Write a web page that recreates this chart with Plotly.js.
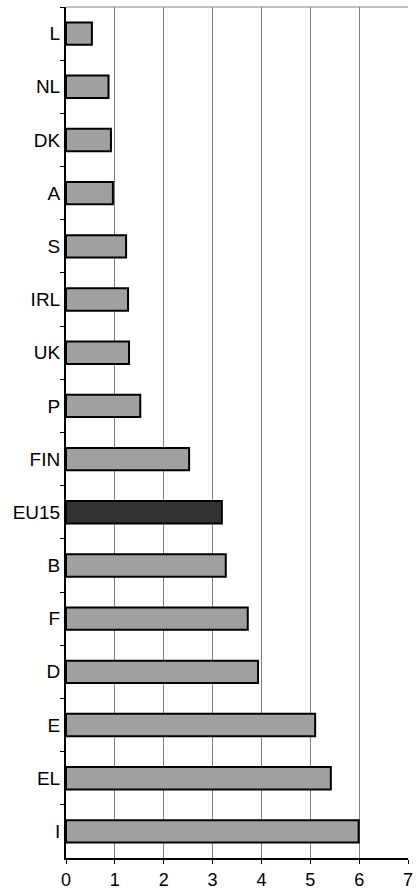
<!DOCTYPE html>
<html><head><meta charset="utf-8">
<script src="https://cdn.plot.ly/plotly-3.0.1.min.js"></script>
<style>html,body{margin:0;padding:0;background:#fff}#c{width:416px;height:889px}</style>
</head><body><div id="c"></div>
<script>
const countries = ["L","NL","DK","A","S","IRL","UK","P","FIN","EU15","B","F","D","E","EL","I"];
const values = [0.53,0.87,0.92,0.96,1.23,1.27,1.29,1.52,2.52,3.19,3.27,3.72,3.93,5.10,5.42,5.99];
const xTicks = [0,1,2,3,4,5,6,7];

const colors = countries.map(c => c === "EU15" ? "#333333" : "#a0a0a0");

const trace = {
  type: "bar", orientation: "h",
  y: countries, x: values,
  marker: {color: colors, line: {color: "#000", width: 2}},
  width: 0.42,
  hoverinfo: "none"
};

const layout = {
  width: 416, height: 889,
  margin: {l: 66, r: 8, t: 7, b: 31},
  paper_bgcolor: "#fff", plot_bgcolor: "#fff",
  font: {family: "Liberation Sans, Arial, sans-serif", size: 19, color: "#000"},
  showlegend: false,
  xaxis: {
    range: [0, 7], tickvals: xTicks, ticktext: xTicks.map(String),
    showgrid: true, gridcolor: "#808080", gridwidth: 1,
    zeroline: false, showline: true, linecolor: "#000", linewidth: 2,
    ticks: "outside", ticklen: 4, tickcolor: "#000", tickwidth: 1,
    tickfont: {size: 18}, fixedrange: true
  },
  yaxis: {
    type: "category", categoryorder: "array", categoryarray: countries,
    autorange: "reversed",
    tickson: "boundaries", ticks: "outside", ticklen: 4, tickcolor: "#000",
    showgrid: false, showline: true, linecolor: "#000", linewidth: 2,
    tickfont: {size: 19}, zeroline: false, fixedrange: true
  },
  shapes: [
    {type: "line", xref: "paper", yref: "paper", x0: 0, x1: 1, y0: 1, y1: 1,
     line: {color: "#808080", width: 1}}
  ]
};

Plotly.newPlot("c", [trace], layout, {displayModeBar: false, staticPlot: true});
</script></body></html>
